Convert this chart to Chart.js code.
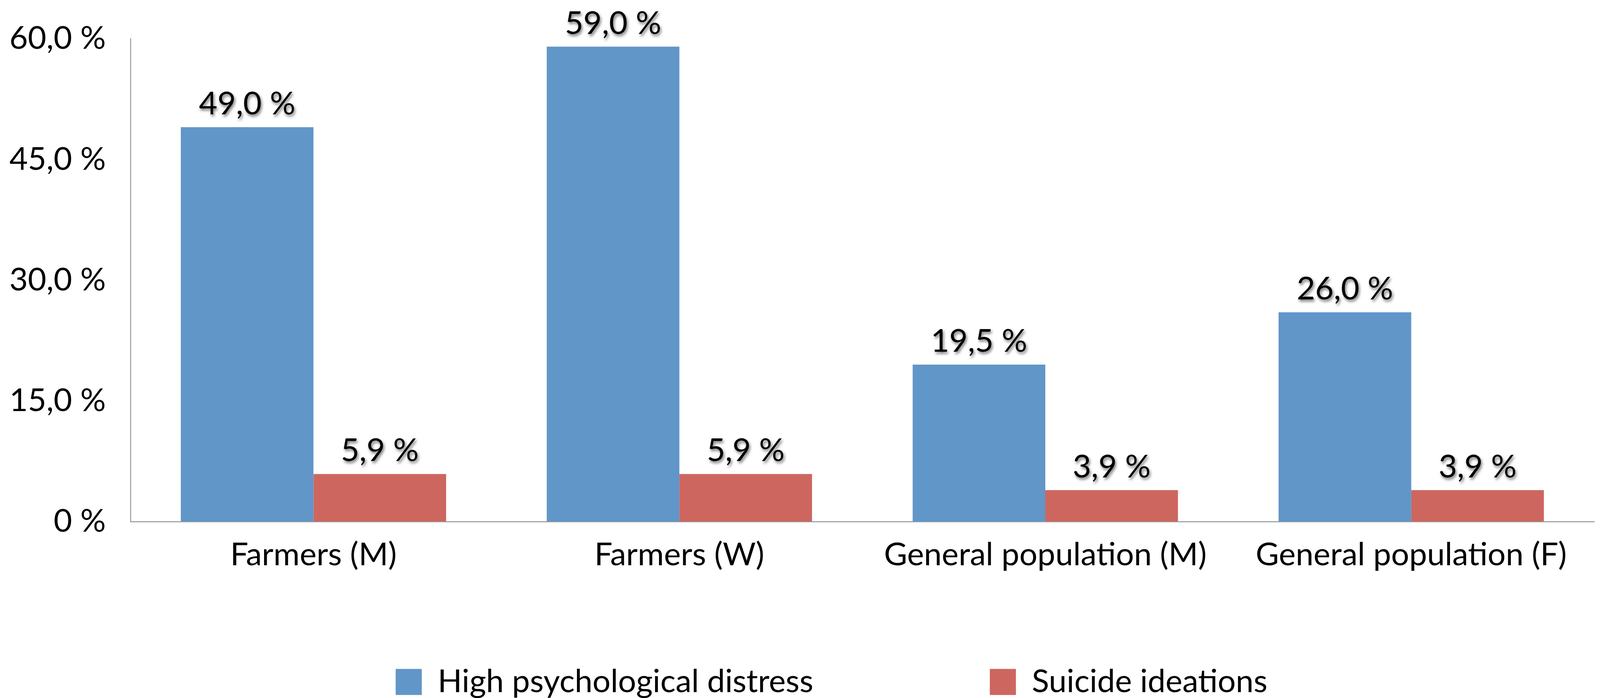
<!DOCTYPE html>
<html>
<head>
<meta charset="utf-8">
<script src="https://cdn.jsdelivr.net/npm/chart.js@4/dist/chart.umd.min.js"></script>
<style>
  html, body { margin: 0; padding: 0; background: #ffffff; overflow: hidden; }
  #wrap { width: 100vw; height: 100vh; position: relative; }
</style>
</head>
<body>
<div id="wrap"><canvas id="c"></canvas></div>
<script>
const categories = ['Farmers (M)', 'Farmers (W)', 'General population (M)', 'General population (F)'];
const seriesNames = ['High psychological distress', 'Suicide ideations'];
const distressValues = [49.0, 59.0, 19.5, 26.0];
const suicideValues = [5.9, 5.9, 3.9, 3.9];
const yTickValues = [0, 15, 30, 45, 60];
const yTickLabels = ['0 %', '15,0 %', '30,0 %', '45,0 %', '60,0 %'];

const Sx = (window.innerWidth || 4414) / 4414;
const Sy = (window.innerHeight || 1788) / 1788;
const FONT = 'Lato';
const FS = 88 * Sx;

function fmt(v) { return v.toFixed(1).replace('.', ',') + ' %'; }

const valueLabels = {
  id: 'valueLabels',
  afterDatasetsDraw(chart) {
    const ctx = chart.ctx;
    ctx.save();
    ctx.font = FS + 'px ' + FONT;
    ctx.fillStyle = '#000000';
    ctx.textAlign = 'center';
    ctx.textBaseline = 'alphabetic';
    ctx.shadowColor = 'rgba(0,0,0,0.55)';
    ctx.shadowBlur = 8 * Sx;
    ctx.shadowOffsetX = 3 * Sx;
    ctx.shadowOffsetY = 5 * Sy;
    chart.data.datasets.forEach((ds, di) => {
      const meta = chart.getDatasetMeta(di);
      meta.data.forEach((bar, i) => {
        ctx.fillText(fmt(ds.data[i]), bar.x, bar.y - 33 * Sy);
      });
    });
    ctx.restore();
  }
};

const LEG_PAD = 487;
const legendTweak = {
  id: 'legendTweak',
  beforeInit(chart) {
    const lg = chart.legend;
    if (!lg) return;
    const proto = Object.getPrototypeOf(lg);
    lg.fit = function () { proto.fit.call(this); this.height = 302 * Sy; };
  },
  afterLayout(chart) {
    const lg = chart.legend;
    if (!lg) return;
    lg.top = 1706 * Sy - LEG_PAD * Sx;
    lg.left += 95 * Sx;
    lg.right += 95 * Sx;
  }
};

new Chart(document.getElementById('c'), {
  type: 'bar',
  data: {
    labels: categories,
    datasets: [
      { label: seriesNames[0], data: distressValues, backgroundColor: '#6196c8', borderWidth: 0 },
      { label: seriesNames[1], data: suicideValues, backgroundColor: '#cd665f', borderWidth: 0 }
    ]
  },
  options: {
    responsive: true,
    maintainAspectRatio: false,
    animation: false,
    layout: { padding: { top: 99 * Sy, right: 16 * Sx, left: 0, bottom: 0 } },
    datasets: { bar: { categoryPercentage: 0.725, barPercentage: 1.0 } },
    plugins: {
      legend: {
        position: 'bottom',
        labels: {
          font: { family: FONT, size: FS },
          color: '#000000',
          boxWidth: 72 * Sx,
          boxHeight: 72 * Sx,
          padding: LEG_PAD * Sx
        }
      },
      tooltip: { enabled: false }
    },
    scales: {
      x: {
        grid: { display: false, drawTicks: false },
        border: { display: true, color: '#a6a6a6', width: 3 * Sy },
        ticks: { font: { family: FONT, size: FS }, color: '#000000', padding: 37 * Sy, maxRotation: 0, autoSkip: false },
        afterFit(scale) { scale.height = 150 * Sy; scale.paddingLeft = 0; scale.paddingRight = 0; }
      },
      y: {
        min: 0,
        max: 60,
        afterBuildTicks(scale) { scale.ticks = yTickValues.map(v => ({ value: v })); },
        grid: { display: false, drawTicks: false },
        border: { display: true, color: '#a6a6a6', width: 3 * Sx },
        ticks: {
          font: { family: FONT, size: FS },
          color: '#000000',
          padding: 68 * Sx,
          callback(value) { const k = yTickValues.indexOf(value); return k >= 0 ? yTickLabels[k] : ''; }
        },
        afterFit(scale) { scale.width = 360 * Sx; scale.paddingTop = 0; scale.paddingBottom = 0; }
      }
    }
  },
  plugins: [valueLabels, legendTweak]
});
</script>
</body>
</html>
